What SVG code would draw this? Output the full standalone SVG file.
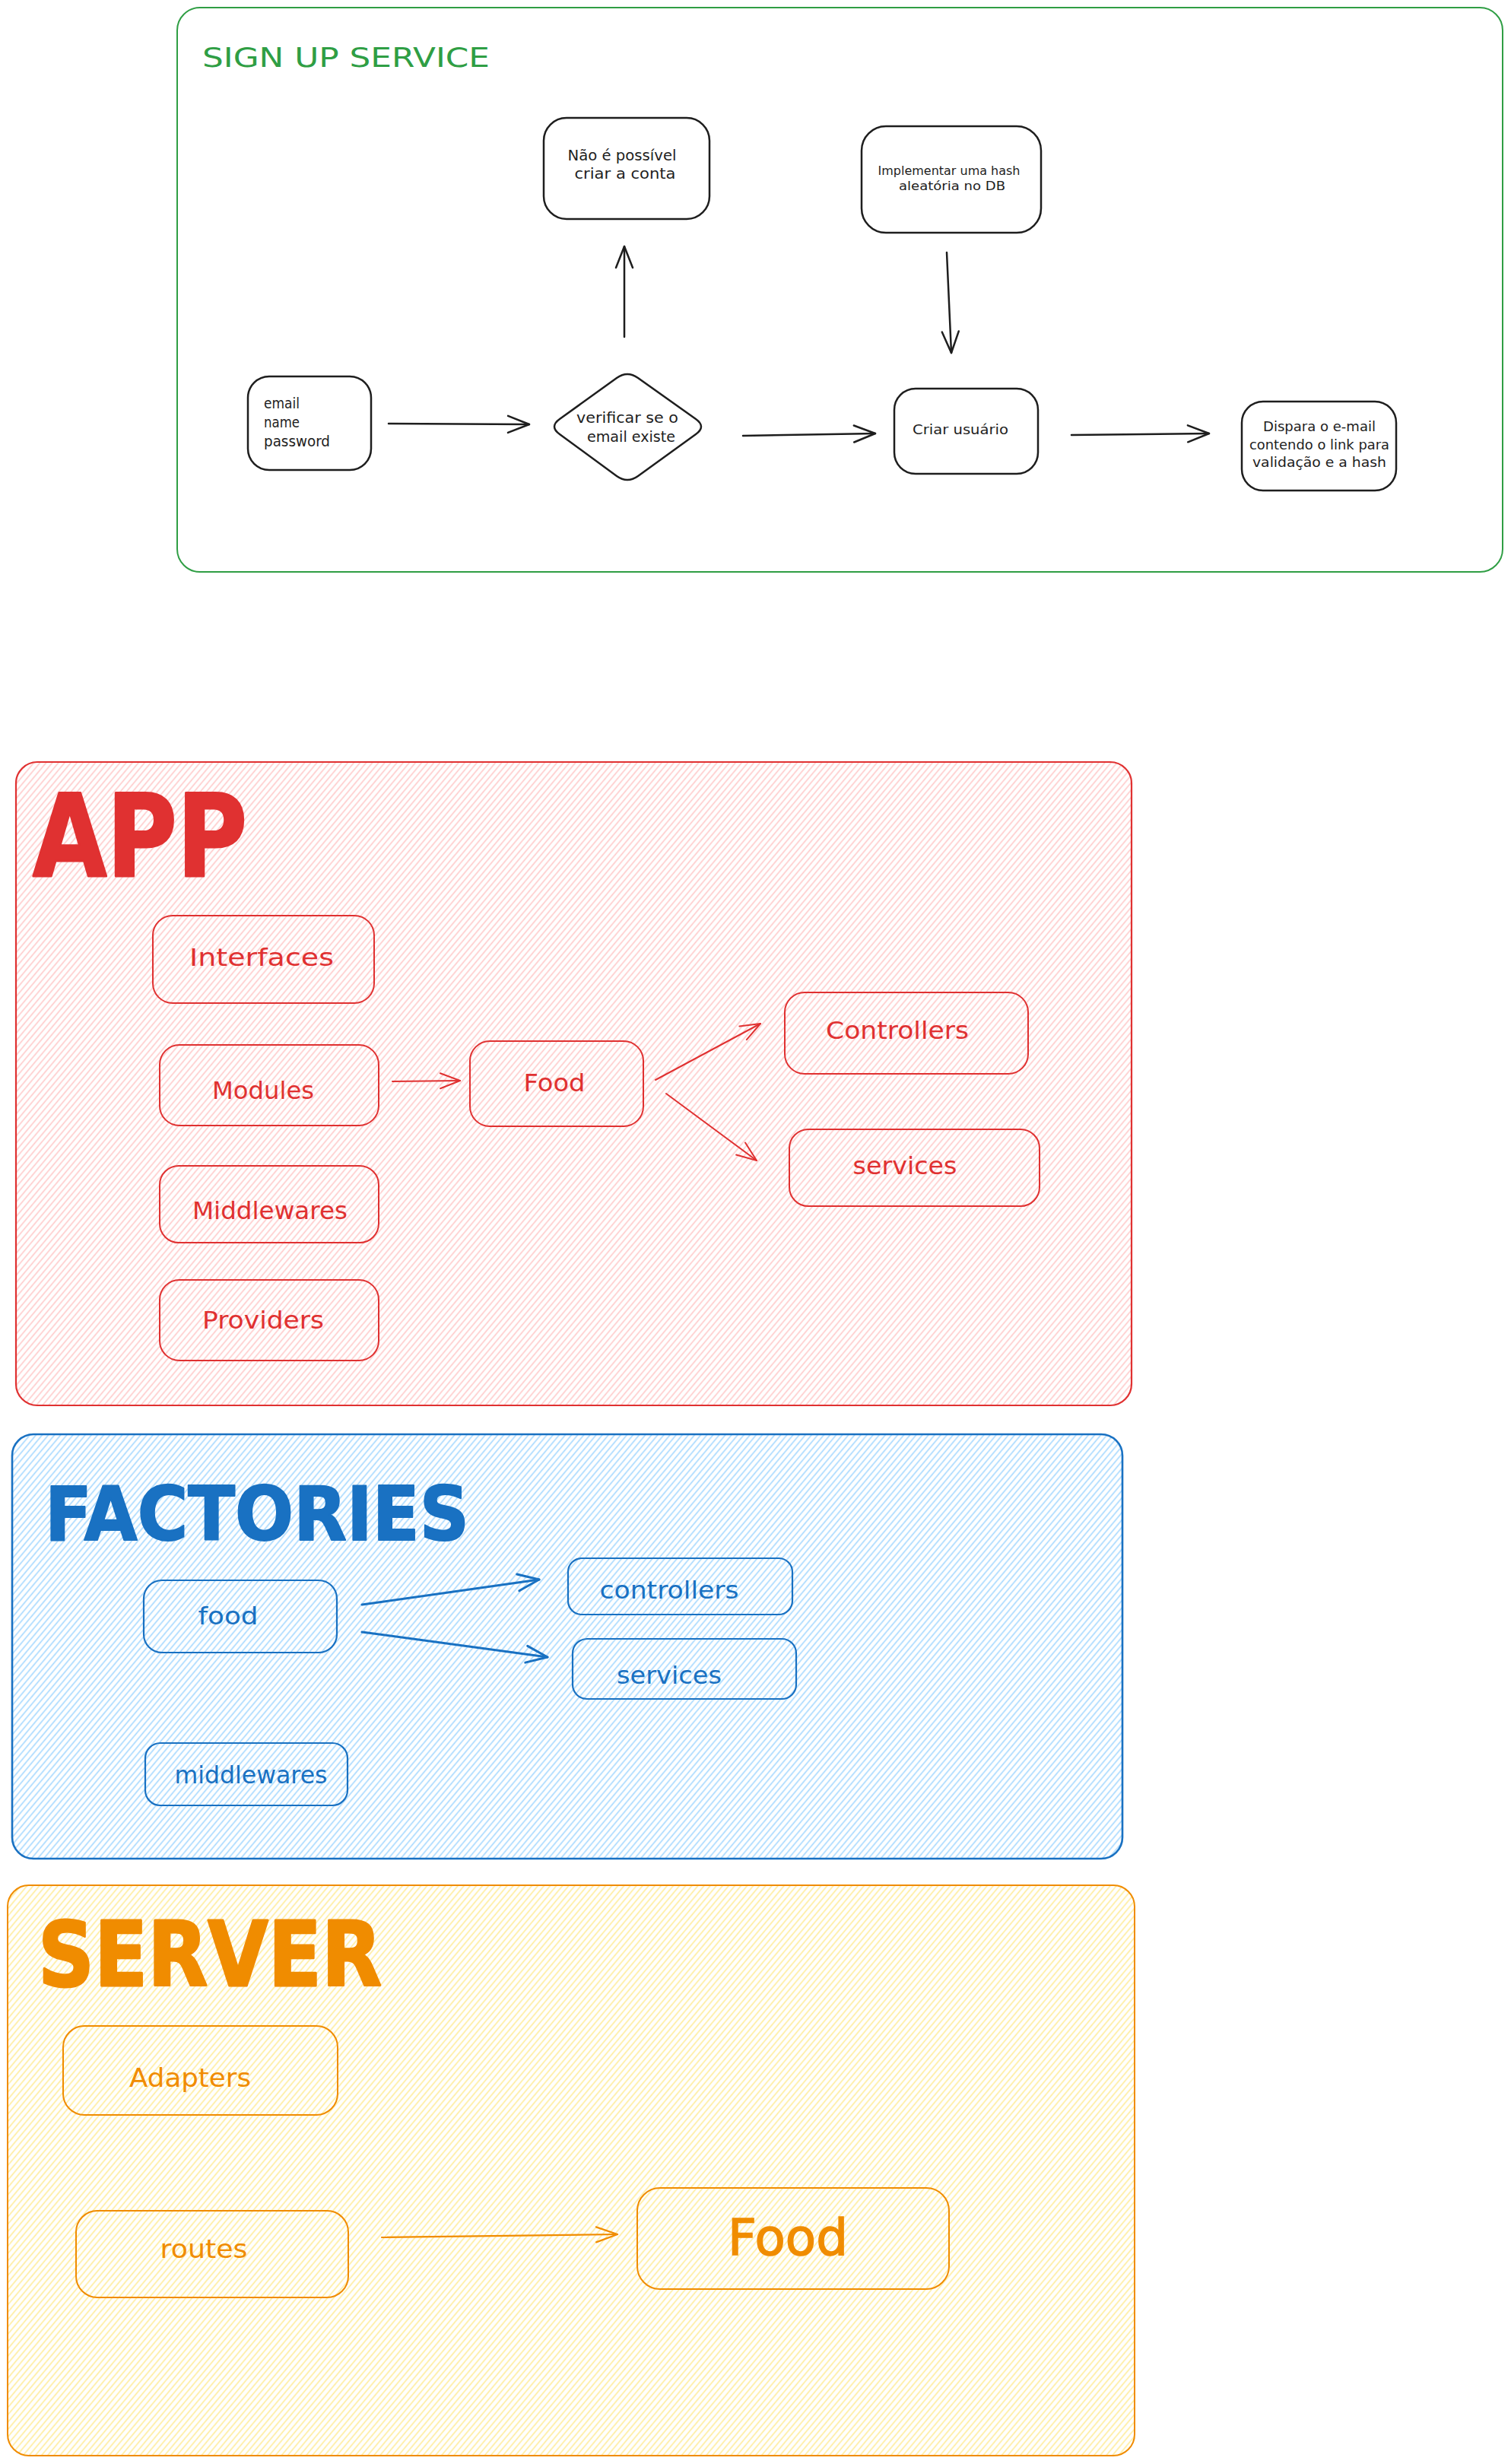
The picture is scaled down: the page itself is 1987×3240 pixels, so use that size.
<svg xmlns="http://www.w3.org/2000/svg" width="1987" height="3240" viewBox="0 0 1987 3240">
<defs>
<style>
.lbl{font-family:"DejaVu Sans","Liberation Sans",sans-serif;}
.ttl{font-family:"DejaVu Sans","Liberation Sans",sans-serif;font-weight:bold;}
.k{fill:#1e1e1e;}
.r{fill:#e03131;}
.b{fill:#1971c2;}
.o{fill:#f08c00;}
.g{fill:#2f9e44;}
.bx-k{fill:none;stroke:#1e1e1e;stroke-width:2.5;}
.bx-r{fill:none;stroke:#e03131;stroke-width:2;}
.bx-b{fill:none;stroke:#1971c2;stroke-width:2.2;}
.bx-o{fill:none;stroke:#f08c00;stroke-width:2;}
.ln-k{fill:none;stroke:#1e1e1e;stroke-width:2.5;stroke-linecap:round;}
.ln-r{fill:none;stroke:#e03131;stroke-width:2;stroke-linecap:round;}
.ln-b{fill:none;stroke:#1971c2;stroke-width:3;stroke-linecap:round;}
.ln-o{fill:none;stroke:#f08c00;stroke-width:2.2;stroke-linecap:round;}
</style>
<pattern id="hatch-red" patternUnits="userSpaceOnUse" width="20" height="6.2" patternTransform="rotate(-50)">
<line x1="0" y1="3" x2="20" y2="3" stroke="#ffc9c9" stroke-width="1.6"/>
</pattern>
<pattern id="hatch-blue" patternUnits="userSpaceOnUse" width="20" height="6.2" patternTransform="rotate(-50)">
<line x1="0" y1="3" x2="20" y2="3" stroke="#a5d8ff" stroke-width="1.6"/>
</pattern>
<pattern id="hatch-yellow" patternUnits="userSpaceOnUse" width="20" height="6.2" patternTransform="rotate(-50)">
<line x1="0" y1="3" x2="20" y2="3" stroke="#ffec99" stroke-width="1.6"/>
</pattern>
<marker id="ah-k" markerUnits="userSpaceOnUse" viewBox="-32 -16 36 32" refX="0" refY="0" markerWidth="36" markerHeight="32" orient="auto" overflow="visible">
<path d="M-28,-11 L0,0 L-28,11" fill="none" stroke="#1e1e1e" stroke-width="2.5" stroke-linecap="round" stroke-linejoin="round"/>
</marker>
<marker id="ah-r" markerUnits="userSpaceOnUse" viewBox="-32 -16 36 32" refX="0" refY="0" markerWidth="36" markerHeight="32" orient="auto" overflow="visible">
<path d="M-26,-10 L0,0 L-26,10" fill="none" stroke="#e03131" stroke-width="2" stroke-linecap="round" stroke-linejoin="round"/>
</marker>
<marker id="ah-b" markerUnits="userSpaceOnUse" viewBox="-32 -16 36 32" refX="0" refY="0" markerWidth="36" markerHeight="32" orient="auto" overflow="visible">
<path d="M-28,-11 L0,0 L-28,11" fill="none" stroke="#1971c2" stroke-width="3" stroke-linecap="round" stroke-linejoin="round"/>
</marker>
<marker id="ah-o" markerUnits="userSpaceOnUse" viewBox="-32 -16 36 32" refX="0" refY="0" markerWidth="36" markerHeight="32" orient="auto" overflow="visible">
<path d="M-28,-10 L0,0 L-28,10" fill="none" stroke="#f08c00" stroke-width="2.2" stroke-linecap="round" stroke-linejoin="round"/>
</marker>
</defs>
<rect x="0" y="0" width="1987" height="3240" fill="#ffffff"/>

<!-- SIGN UP SERVICE -->
<g id="frame-signup">
<rect x="233" y="10" width="1743" height="742" rx="30" fill="none" stroke="#2f9e44" stroke-width="2"/>
<text class="lbl g" x="266" y="88" font-size="36" textLength="378" lengthAdjust="spacingAndGlyphs">SIGN UP SERVICE</text>
</g>
<g id="node-input">
<rect class="bx-k" x="326" y="495" width="162" height="123" rx="28"/>
<text class="lbl k" font-size="19" x="347" y="537" textLength="47" lengthAdjust="spacingAndGlyphs">email</text>
<text class="lbl k" font-size="19" x="347" y="562" textLength="47" lengthAdjust="spacingAndGlyphs">name</text>
<text class="lbl k" font-size="19" x="347" y="587" textLength="87" lengthAdjust="spacingAndGlyphs">password</text>
</g>
<g id="node-verificar">
<path class="bx-k" d="M811,497 Q825,487 839,497 L915,551 Q929,561 915,571 L839,626 Q825,636 811,626 L736,571 Q722,561 736,551 Z"/>
<text class="lbl k" font-size="19" x="825" y="556" text-anchor="middle" textLength="134" lengthAdjust="spacingAndGlyphs">verificar se o</text>
<text class="lbl k" font-size="19" x="830" y="581" text-anchor="middle" textLength="116" lengthAdjust="spacingAndGlyphs">email existe</text>
</g>
<g id="node-nao">
<rect class="bx-k" x="715" y="155" width="218" height="133" rx="30"/>
<text class="lbl k" font-size="19" x="818" y="211" text-anchor="middle" textLength="143" lengthAdjust="spacingAndGlyphs">Não é possível</text>
<text class="lbl k" font-size="19" x="822" y="235" text-anchor="middle" textLength="133" lengthAdjust="spacingAndGlyphs">criar a conta</text>
</g>
<g id="node-hash">
<rect class="bx-k" x="1133" y="166" width="236" height="140" rx="32"/>
<text class="lbl k" font-size="16" x="1248" y="230" text-anchor="middle" textLength="187" lengthAdjust="spacingAndGlyphs">Implementar uma hash</text>
<text class="lbl k" font-size="16" x="1252" y="250" text-anchor="middle" textLength="140" lengthAdjust="spacingAndGlyphs">aleatória no DB</text>
</g>
<g id="node-criar">
<rect class="bx-k" x="1176" y="511" width="189" height="112" rx="28"/>
<text class="lbl k" font-size="18" x="1263" y="571" text-anchor="middle" textLength="126" lengthAdjust="spacingAndGlyphs">Criar usuário</text>
</g>
<g id="node-dispara">
<rect class="bx-k" x="1633" y="528" width="203" height="117" rx="28"/>
<text class="lbl k" font-size="17" x="1735" y="567" text-anchor="middle" textLength="148" lengthAdjust="spacingAndGlyphs">Dispara o e-mail</text>
<text class="lbl k" font-size="17" x="1735" y="591" text-anchor="middle" textLength="184" lengthAdjust="spacingAndGlyphs">contendo o link para</text>
<text class="lbl k" font-size="17" x="1735" y="614" text-anchor="middle" textLength="176" lengthAdjust="spacingAndGlyphs">validação e a hash</text>
</g>

<!-- APP -->
<g id="frame-app">
<rect x="21" y="1002" width="1467" height="846" rx="28" fill="url(#hatch-red)" stroke="#e03131" stroke-width="2.2"/>
<text class="ttl r" x="43" y="1152" font-size="150" stroke="#e03131" stroke-width="3" stroke-linejoin="round" textLength="282" lengthAdjust="spacingAndGlyphs">APP</text>
</g>
<g id="node-interfaces">
<rect class="bx-r" x="201" y="1204" width="291" height="115" rx="26"/>
<text class="lbl r" font-size="32" x="344" y="1270" text-anchor="middle" textLength="190" lengthAdjust="spacingAndGlyphs">Interfaces</text>
</g>
<g id="node-modules">
<rect class="bx-r" x="210" y="1374" width="288" height="106" rx="26"/>
<text class="lbl r" font-size="32" x="346" y="1445" text-anchor="middle" textLength="134" lengthAdjust="spacingAndGlyphs">Modules</text>
</g>
<g id="node-app-food">
<rect class="bx-r" x="618" y="1369" width="228" height="112" rx="26"/>
<text class="lbl r" font-size="32" x="729" y="1435" text-anchor="middle" textLength="81" lengthAdjust="spacingAndGlyphs">Food</text>
</g>
<g id="node-app-controllers">
<rect class="bx-r" x="1032" y="1305" width="320" height="107" rx="26"/>
<text class="lbl r" font-size="32" x="1180" y="1366" text-anchor="middle" textLength="188" lengthAdjust="spacingAndGlyphs">Controllers</text>
</g>
<g id="node-app-services">
<rect class="bx-r" x="1038" y="1485" width="329" height="101" rx="25"/>
<text class="lbl r" font-size="32" x="1190" y="1544" text-anchor="middle" textLength="137" lengthAdjust="spacingAndGlyphs">services</text>
</g>
<g id="node-app-middlewares">
<rect class="bx-r" x="210" y="1533" width="288" height="101" rx="25"/>
<text class="lbl r" font-size="32" x="355" y="1603" text-anchor="middle" textLength="204" lengthAdjust="spacingAndGlyphs">Middlewares</text>
</g>
<g id="node-providers">
<rect class="bx-r" x="210" y="1683" width="288" height="106" rx="26"/>
<text class="lbl r" font-size="32" x="346" y="1747" text-anchor="middle" textLength="160" lengthAdjust="spacingAndGlyphs">Providers</text>
</g>

<!-- FACTORIES -->
<g id="frame-factories">
<rect x="16" y="1886" width="1460" height="558" rx="28" fill="url(#hatch-blue)" stroke="#1971c2" stroke-width="2.6"/>
<text class="ttl b" x="59" y="2025" font-size="98" stroke="#1971c2" stroke-width="2" stroke-linejoin="round" textLength="558" lengthAdjust="spacingAndGlyphs">FACTORIES</text>
</g>
<g id="node-fac-food">
<rect class="bx-b" x="189" y="2078" width="254" height="95" rx="24"/>
<text class="lbl b" font-size="32" x="300" y="2136" text-anchor="middle" textLength="79" lengthAdjust="spacingAndGlyphs">food</text>
</g>
<g id="node-fac-controllers">
<rect class="bx-b" x="747" y="2049" width="295" height="74" rx="18"/>
<text class="lbl b" font-size="32" x="880" y="2102" text-anchor="middle" textLength="183" lengthAdjust="spacingAndGlyphs">controllers</text>
</g>
<g id="node-fac-services">
<rect class="bx-b" x="753" y="2155" width="294" height="79" rx="19"/>
<text class="lbl b" font-size="32" x="880" y="2214" text-anchor="middle" textLength="138" lengthAdjust="spacingAndGlyphs">services</text>
</g>
<g id="node-fac-middlewares">
<rect class="bx-b" x="191" y="2292" width="266" height="82" rx="20"/>
<text class="lbl b" font-size="32" x="330" y="2345" text-anchor="middle" textLength="201" lengthAdjust="spacingAndGlyphs">middlewares</text>
</g>

<!-- SERVER -->
<g id="frame-server">
<rect x="10" y="2479" width="1482" height="750" rx="28" fill="url(#hatch-yellow)" stroke="#f08c00" stroke-width="2"/>
<text class="ttl o" x="50" y="2611" font-size="118" stroke="#f08c00" stroke-width="3" stroke-linejoin="round" textLength="452" lengthAdjust="spacingAndGlyphs">SERVER</text>
</g>
<g id="node-adapters">
<rect class="bx-o" x="83" y="2664" width="361" height="117" rx="28"/>
<text class="lbl o" font-size="34" x="250" y="2744" text-anchor="middle" textLength="160" lengthAdjust="spacingAndGlyphs">Adapters</text>
</g>
<g id="node-routes">
<rect class="bx-o" x="100" y="2907" width="358" height="114" rx="28"/>
<text class="lbl o" font-size="34" x="268" y="2969" text-anchor="middle" textLength="115" lengthAdjust="spacingAndGlyphs">routes</text>
</g>
<g id="node-server-food">
<rect class="bx-o" x="838" y="2877" width="410" height="133" rx="30"/>
<text class="lbl o" font-size="66" x="1036" y="2965" text-anchor="middle" stroke="#f08c00" stroke-width="1.5" textLength="158" lengthAdjust="spacingAndGlyphs">Food</text>
</g>

<!-- Connectors -->
<g id="connectors">
<path class="ln-k" d="M511,557 L696,558" marker-end="url(#ah-k)"/>
<path class="ln-k" d="M821,443 L821,324" marker-end="url(#ah-k)"/>
<path class="ln-k" d="M1245,332 L1251,464" marker-end="url(#ah-k)"/>
<path class="ln-k" d="M977,573 L1151,570" marker-end="url(#ah-k)"/>
<path class="ln-k" d="M1409,572 L1590,570" marker-end="url(#ah-k)"/>
<path class="ln-r" d="M516,1422 L605,1421" marker-end="url(#ah-r)"/>
<path class="ln-r" d="M862,1420 L1000,1346" stroke-width="2.5" marker-end="url(#ah-r)"/>
<path class="ln-r" d="M876,1438 L995,1526" marker-end="url(#ah-r)"/>
<path class="ln-b" d="M476,2110 L709,2077" marker-end="url(#ah-b)"/>
<path class="ln-b" d="M476,2146 L720,2179" marker-end="url(#ah-b)"/>
<path class="ln-o" d="M502,2942 L812,2938" marker-end="url(#ah-o)"/>
</g>
</svg>
